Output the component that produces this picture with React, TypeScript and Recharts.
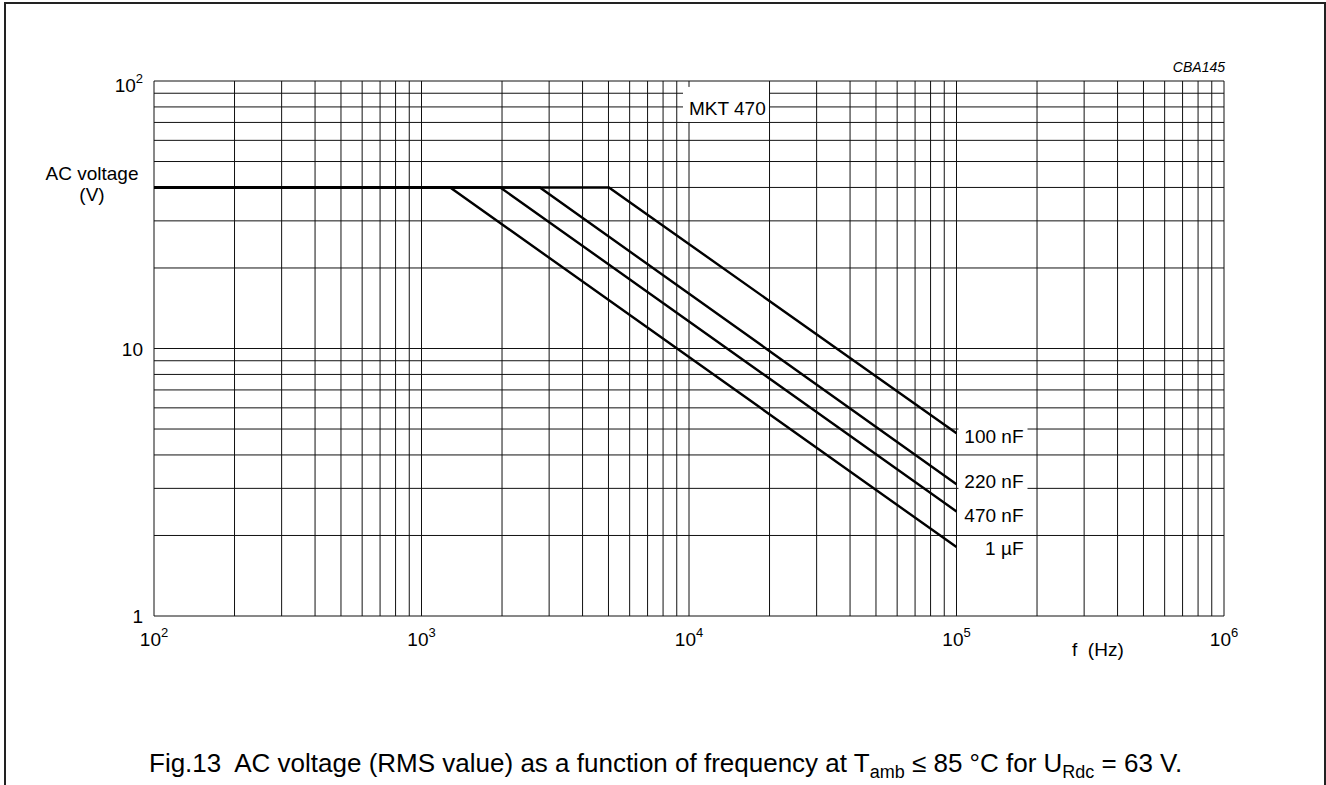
import React from 'react';
import { LineChart, Line, XAxis, YAxis, CartesianGrid, ReferenceDot } from 'recharts';

// grid / tick values (log decades with minor lines)
const xTicks = [
  100, 200, 300, 400, 500, 600, 700, 800, 900,
  1000, 2000, 3000, 4000, 5000, 6000, 7000, 8000, 9000,
  10000, 20000, 30000, 40000, 50000, 60000, 70000, 80000, 90000,
  100000, 200000, 300000, 400000, 500000, 600000, 700000, 800000, 900000,
  1000000,
];
const yTicks = [1, 2, 3, 4, 5, 6, 7, 8, 9, 10, 20, 30, 40, 50, 60, 70, 80, 90, 100];

const xDecades = [100, 1000, 10000, 100000, 1000000];
const xDecadeExp = ['2', '3', '4', '5', '6'];

// curves: flat 40 V, then rolling off to 100 kHz
const seriesNames = ['100 nF', '220 nF', '470 nF', '1 \u00b5F'];
const freq100n = [100, 5020, 100000];
const volt100n = [40, 40, 4.82];
const freq220n = [100, 2770, 100000];
const volt220n = [40, 40, 3.11];
const freq470n = [100, 1970, 100000];
const volt470n = [40, 40, 2.46];
const freq1u = [100, 1280, 100000];
const volt1u = [40, 40, 1.81];

const labelDy = [3, -3, 4, 1];

const toPoints = (f: number[], v: number[]) => f.map((x, i) => ({ f: x, v: v[i] }));

const curves = [
  toPoints(freq100n, volt100n),
  toPoints(freq220n, volt220n),
  toPoints(freq470n, volt470n),
  toPoints(freq1u, volt1u),
];

const FONT = '"Liberation Sans", Arial, sans-serif';

function YTick(props: any) {
  const { y, payload } = props;
  const v = payload.value;
  if (v === 1 || v === 10) {
    return (
      <text x={143} y={y} dy={7} textAnchor="end" fontSize={19} fontFamily={FONT} fill="#000">
        {String(v)}
      </text>
    );
  }
  if (v === 100) {
    return (
      <text x={143} y={y + 4} dy={7} textAnchor="end" fontSize={19} fontFamily={FONT} fill="#000">
        10<tspan dy={-9} fontSize={13}>2</tspan>
      </text>
    );
  }
  return null;
}

function XTick(props: any) {
  const { x, payload } = props;
  const idx = xDecades.indexOf(payload.value);
  if (idx < 0) return null;
  return (
    <text x={x} y={646} textAnchor="middle" fontSize={19} fontFamily={FONT} fill="#000">
      10<tspan dy={-9} fontSize={13}>{xDecadeExp[idx]}</tspan>
    </text>
  );
}

function CurveLabel(text: string, dy: number) {
  return (p: any) => (
    <g>
      <rect x={p.cx + 2} y={p.cy + dy - 10} width={69} height={20} fill="#fff" />
      <text x={p.cx + 67} y={p.cy + dy + 7} textAnchor="end" fontSize={19} fontFamily={FONT} fill="#000">
        {text}
      </text>
    </g>
  );
}

function TypeLabel(p: any) {
  return (
    <g>
      <rect x={p.cx - 6} y={p.cy - 20} width={86} height={35} fill="#fff" />
      <text x={p.cx} y={p.cy + 8} fontSize={19} fontFamily={FONT} fill="#000">
        MKT 470
      </text>
    </g>
  );
}

export default function App() {
  return (
    <div style={{ position: 'absolute', left: 0, top: 0, width: 1326, height: 785, background: '#fff', overflow: 'hidden' }}>
      <div
        style={{
          position: 'absolute', left: 4, top: 2, width: 1318, height: 800,
          borderLeft: '2px solid #222', borderTop: '2px solid #222', borderRight: '2px solid #222',
        }}
      />
      <div style={{ position: 'absolute', left: 0, top: 0 }}>
        <LineChart width={1326} height={785} margin={{ top: 81, right: 102, bottom: 0, left: 0 }}>
          <CartesianGrid stroke="#111" strokeWidth={1} />
          <XAxis
            dataKey="f"
            type="number"
            scale="log"
            domain={[100, 1000000]}
            ticks={xTicks}
            interval={0}
            axisLine={false}
            tickLine={false}
            height={169}
            tick={<XTick />}
            allowDataOverflow
          />
          <YAxis
            dataKey="v"
            type="number"
            scale="log"
            domain={[1, 100]}
            ticks={yTicks}
            interval={0}
            axisLine={false}
            tickLine={false}
            width={154}
            tick={<YTick />}
            allowDataOverflow
          />
          {curves.map((d, i) => (
            <Line
              key={seriesNames[i]}
              data={d}
              dataKey="v"
              stroke="#000"
              strokeWidth={2.4}
              dot={false}
              activeDot={false}
              isAnimationActive={false}
              type="linear"
            />
          ))}
          {curves.map((d, i) => (
            <ReferenceDot
              key={'lbl' + i}
              x={d[d.length - 1].f}
              y={d[d.length - 1].v}
              r={0}
              shape={CurveLabel(seriesNames[i], labelDy[i])}
            />
          ))}
          <ReferenceDot x={10000} y={80} r={0} shape={TypeLabel} />
        </LineChart>
      </div>
      <svg width={1326} height={785} style={{ position: 'absolute', left: 0, top: 0, pointerEvents: 'none' }}>
        <text x={1225} y={72} textAnchor="end" fontSize={14} fontStyle="italic" fontFamily={FONT}>CBA145</text>
        <text x={92} y={180} textAnchor="middle" fontSize={19} fontFamily={FONT}>AC voltage</text>
        <text x={92} y={201} textAnchor="middle" fontSize={19} fontFamily={FONT}>(V)</text>
        <text x={1072} y={656} fontSize={19} fontFamily={FONT} style={{ whiteSpace: 'pre' }}>f  (Hz)</text>
        <text x={149} y={772} fontSize={26} fontFamily={FONT} style={{ whiteSpace: 'pre' }}>
          Fig.13  AC voltage (RMS value) as a function of frequency at T
          <tspan dy={6} fontSize={18}>amb</tspan>
          <tspan dy={-6}> {'\u2264'} 85 {'\u00b0'}C for U</tspan>
          <tspan dy={6} fontSize={18}>Rdc</tspan>
          <tspan dy={-6}> = 63 V.</tspan>
        </text>
      </svg>
    </div>
  );
}
